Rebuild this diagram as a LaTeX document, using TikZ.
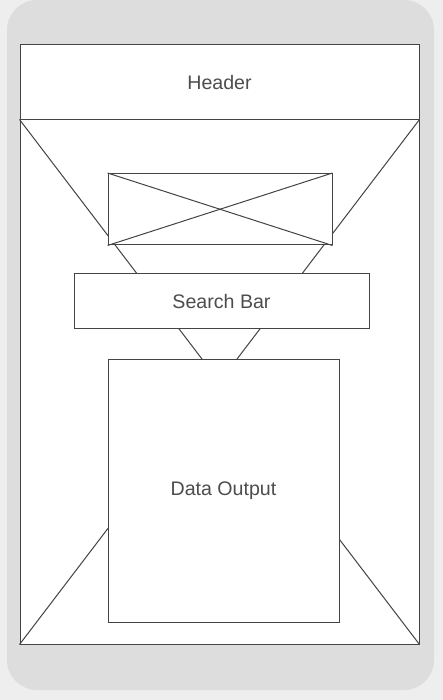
\documentclass[tikz,border=0pt]{standalone}
\usepackage{fontspec}
\setmainfont{Liberation Sans}
\definecolor{pagegray}{HTML}{EEEEEE}
\definecolor{framegray}{HTML}{DDDDDD}
\definecolor{linegray}{HTML}{444444}
\definecolor{textgray}{HTML}{4D4D4D}

\begin{document}
\begin{tikzpicture}[x=1pt, y=-1pt,
    box/.style={draw=linegray, fill=white, line width=1pt, inner sep=0pt,
        text=textgray, font=\fontsize{19.6}{23}\selectfont}]
    \fill[pagegray] (0,0) rectangle (443,700);
    \fill[framegray, rounded corners=30pt] (7,0) rectangle (434,690);

    \node[box, minimum width=399pt, minimum height=524pt] (body) at (219.5,382) {};
    \draw[linegray, line width=1pt] (body.north west) -- (body.south east);
    \draw[linegray, line width=1pt] (body.north east) -- (body.south west);
    \node[box, minimum width=399pt, minimum height=75pt] (header) at (219.5,82.5) {Header};

    \node[box, minimum width=224pt, minimum height=71.5pt] (img) at (220,209.25) {};
    \draw[linegray, line width=1pt] (img.north west) -- (img.south east);
    \draw[linegray, line width=1pt] (img.north east) -- (img.south west);

    \node[box, minimum width=295pt, minimum height=55pt] (search) at (221.5,301) {Search Bar};
    \node[box, minimum width=231pt, minimum height=262.5pt] (data) at (223.5,490.75) {Data Output};
\end{tikzpicture}
\end{document}
